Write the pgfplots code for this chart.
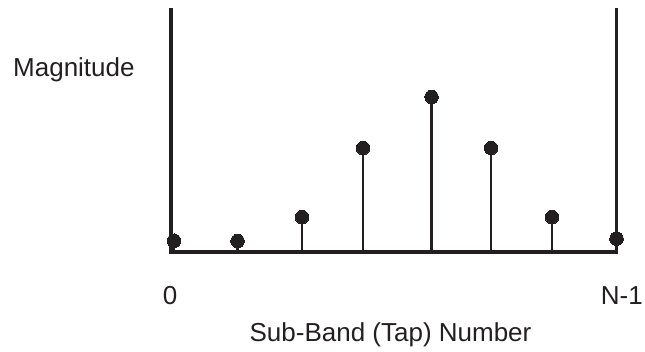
\documentclass[border=0pt]{standalone}
\usepackage{fontspec}
\setmainfont{Liberation Sans}
\usepackage{pgfplots}
\pgfplotsset{compat=1.18}
\definecolor{ink}{HTML}{231F20}
\begin{document}
\begin{tikzpicture}
\begin{axis}[
  at={(0,0)}, anchor=south west,
  scale only axis,
  width=445.5bp, height=244bp,
  xmin=-0.0475, xmax=7,
  ymin=0, ymax=244,
  hide axis,
  clip=false,
]
\addplot[ycomb, color=ink, line width=2.6bp, mark=*, mark size=6.8bp,
  mark options={fill=ink, draw=ink, line width=0pt}]
  coordinates {
  (0,11.3) (1.005,11) (2.025,35) (2.99,104) (4.075,155) (5.016,104) (5.98,35) (7.0,13.3)
  };
\draw[ink, line width=3bp, line join=miter]
  (axis cs:-0.0475,244) -- (axis cs:-0.0475,0) -- (axis cs:7,0) -- (axis cs:7,244);
\end{axis}
\begin{scope}[every node/.style={inner sep=0pt, text=ink, font=\fontsize{26bp}{31bp}\selectfont}]
\node[anchor=base west] at (-158bp,175.3bp) {Magnitude};
\node[anchor=base] at (-1bp,-52bp) {0};
\node[anchor=base east] at (472bp,-52bp) {N-1};
\node[anchor=base] at (219.5bp,-89.5bp) {Sub-Band (Tap) Number};
\end{scope}
\pgfresetboundingbox
\path[use as bounding box] (-171bp,-100bp) rectangle (474bp,252bp);
\end{tikzpicture}
\end{document}
